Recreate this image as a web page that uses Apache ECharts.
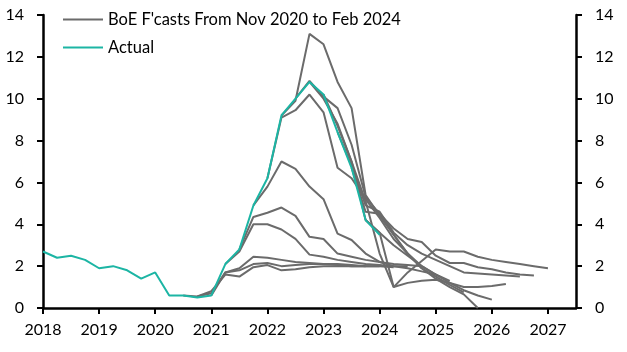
<!DOCTYPE html>
<html>
<head>
<meta charset="utf-8">
<script src="https://cdn.jsdelivr.net/npm/echarts@6/dist/echarts.min.js"></script>
<style>
  html, body { margin: 0; padding: 0; background: #fff; }
  #chart { width: 627px; height: 352px; }
</style>
</head>
<body>
<div id="chart"></div>
<script>
// quarters 2018Q1 .. 2027Q3
const quarters = []
for (let y = 2018; y <= 2027; y++) {
  for (let q = 1; q <= 4; q++) {
    if (y === 2027 && q > 3) break
    quarters.push(y + 'Q' + q)
  }
}

const forecastName = "BoE F'casts From Nov 2020 to Feb 2024"
const actualName = 'Actual'

// CPI inflation, quarterly, from 2018Q1
const actual = [2.7, 2.4, 2.5, 2.3, 1.9, 2.0, 1.8, 1.4, 1.7, 0.6, 0.6, 0.5, 0.6, 2.1, 2.8, 4.9,
  6.2, 9.2, 10.0, 10.8, 10.2, 8.4, 6.7, 4.2, 3.5]

// BoE forecasts: first quarter + values
const nov20Start = '2020Q3'
const nov20 = [0.6, 0.55, 0.8, 1.6, 1.5, 1.95, 2.05, 1.8, 1.85, 1.95, 2.0, 2.0, 2.0, 2.0]
const feb21Start = '2020Q4'
const feb21 = [0.55, 0.7, 1.7, 1.8, 2.1, 2.15, 2.0, 2.05, 2.1, 2.1, 2.1, 2.05, 2.0, 2.0]
const may21Start = '2021Q1'
const may21 = [0.6, 1.7, 1.9, 2.45, 2.4, 2.3, 2.2, 2.15, 2.1, 2.05, 2.0, 2.0, 2.0, 1.95]
const aug21Start = '2021Q2'
const aug21 = [2.1, 2.7, 4.0, 4.0, 3.75, 3.3, 2.55, 2.45, 2.3, 2.2, 2.1, 2.05, 2.0, 2.0]
const nov21Start = '2021Q3'
const nov21 = [2.8, 4.35, 4.55, 4.8, 4.4, 3.4, 3.3, 2.6, 2.45, 2.3, 2.2, 2.1, 2.05, 2.0]
const feb22Start = '2021Q4'
const feb22 = [4.9, 5.8, 7.0, 6.65, 5.8, 5.2, 3.55, 3.25, 2.6, 2.2, 2.0, 1.9, 1.75, 1.6]
const may22Start = '2022Q1'
const may22 = [6.2, 9.1, 9.45, 10.2, 9.35, 6.7, 6.2, 5.2, 4.3, 3.3, 2.6, 2.0, 1.6, 1.3]
const aug22Start = '2022Q2'
const aug22 = [9.2, 9.9, 13.1, 12.6, 10.8, 9.55, 5.4, 4.4, 3.5, 2.6, 1.9, 1.5, 1.1, 0.75]
const nov22Start = '2022Q3'
const nov22 = [10.0, 10.85, 10.1, 9.55, 7.8, 5.3, 4.5, 3.5, 2.6, 1.9, 1.4, 1.0, 0.65, 0.0]
const feb23Start = '2022Q4'
const feb23 = [10.8, 10.0, 8.8, 7.0, 4.2, 3.6, 3.0, 2.5, 2.0, 1.6, 1.2, 0.85, 0.6, 0.4]
const may23Start = '2023Q1'
const may23 = [10.2, 8.7, 7.0, 5.1, 2.6, 1.0, 1.2, 1.3, 1.35, 1.2, 1.0, 1.0, 1.05, 1.15]
const aug23Start = '2023Q2'
const aug23 = [8.4, 6.8, 4.9, 4.6, 3.6, 3.0, 2.6, 2.3, 2.0, 1.7, 1.65, 1.6, 1.55, 1.5]
const nov23Start = '2023Q3'
const nov23 = [6.7, 4.6, 4.5, 3.8, 3.3, 3.15, 2.5, 2.15, 2.15, 1.95, 1.85, 1.7, 1.6, 1.55]
const feb24Start = '2023Q4'
const feb24 = [4.2, 3.6, 1.0, 1.7, 2.25, 2.8, 2.7, 2.7, 2.45, 2.3, 2.2, 2.1, 2.0, 1.9]

const forecasts = [
  [nov20Start, nov20], [feb21Start, feb21], [may21Start, may21], [aug21Start, aug21],
  [nov21Start, nov21], [feb22Start, feb22], [may22Start, may22], [aug22Start, aug22],
  [nov22Start, nov22], [feb23Start, feb23], [may23Start, may23], [aug23Start, aug23],
  [nov23Start, nov23], [feb24Start, feb24]
]

const yTicks = [0, 2, 4, 6, 8, 10, 12, 14]

const GREY = '#6b6b6b'
const TEAL = '#1cb5a4'
const FONT = 'Lato'

const padded = (start, vals) => {
  const out = quarters.map(() => null)
  const i0 = quarters.indexOf(start)
  vals.forEach((v, i) => { out[i0 + i] = v })
  return out
}

const chart = echarts.init(document.getElementById('chart'))

const yAxisBase = {
  type: 'value',
  min: yTicks[0],
  max: yTicks[yTicks.length - 1],
  interval: 2,
  splitLine: { show: false },
  axisLine: { show: true, lineStyle: { color: '#000', width: 2.5 } },
  axisTick: { show: true, length: 6, lineStyle: { color: '#000', width: 2 } },
  axisLabel: { color: '#000', fontFamily: FONT, fontSize: 16, margin: 19 }
}

const series = forecasts.map(([start, vals]) => ({
  name: forecastName,
  type: 'line',
  data: padded(start, vals),
  symbol: 'none',
  lineStyle: { color: GREY, width: 2 },
  itemStyle: { color: GREY },
  z: 2
}))
series.push({
  name: actualName,
  type: 'line',
  data: padded(quarters[0], actual),
  symbol: 'none',
  lineStyle: { color: TEAL, width: 2 },
  itemStyle: { color: TEAL },
  z: 3
})

const option = {
  animation: false,
  grid: { left: 43, right: 51, top: 15, bottom: 44 },
  legend: {
    orient: 'vertical',
    left: 63,
    top: 11,
    padding: 0,
    icon: 'rect',
    itemWidth: 40,
    itemHeight: 2,
    itemGap: 11,
    data: [forecastName, actualName],
    textStyle: { color: '#000', fontFamily: FONT, fontSize: 16.5 }
  },
  xAxis: {
    type: 'category',
    data: quarters,
    boundaryGap: false,
    axisLine: { lineStyle: { color: '#000', width: 2.5 } },
    axisTick: { show: true, length: 6, interval: (i) => i % 4 === 0, lineStyle: { color: '#000', width: 2 } },
    axisLabel: {
      interval: (i) => i % 4 === 0,
      formatter: (v) => v.slice(0, 4),
      color: '#000', fontFamily: FONT, fontSize: 16, margin: 14
    }
  },
  yAxis: [
    Object.assign({}, yAxisBase, { position: 'left' }),
    Object.assign({}, yAxisBase, { position: 'right' })
  ],
  series: series
}

chart.setOption(option)
</script>
</body>
</html>
